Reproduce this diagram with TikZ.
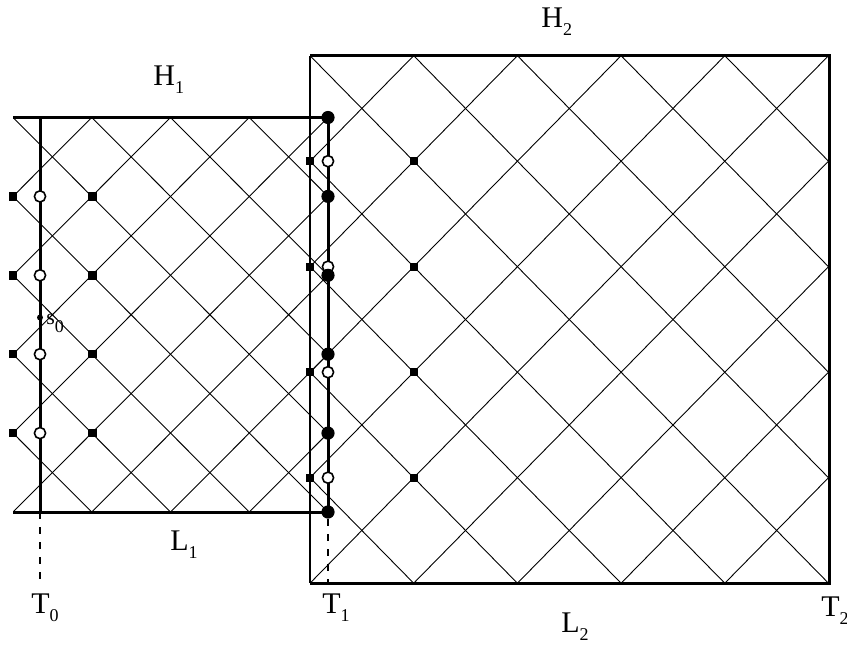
\documentclass[tikz,border=0pt]{standalone}
\usepackage{fontspec}
\setmainfont{Liberation Serif}
\usetikzlibrary{positioning}
\tikzset{
  rim/.style={line width=1.5pt},
  rimthin/.style={line width=0.7pt},
  net/.style={line width=0.45pt},
  guide/.style={line width=0.6pt,dash pattern=on 3.5pt off 4pt},
  sqmark/.style={rectangle,fill=black,minimum size=4.2pt,inner sep=0pt},
  ring/.style={circle,draw,fill=white,line width=0.8pt,minimum size=5.6pt,inner sep=0pt},
  bigdot/.style={circle,fill=black,minimum size=6.6pt,inner sep=0pt},
  smalldot/.style={circle,fill=black,minimum size=3pt,inner sep=0pt},
  lab/.style={font=\fontsize{15}{15}\selectfont,inner sep=0pt,anchor=base west},
}
\newcommand{\lowsub}[1]{\raisebox{-4pt}{\fontsize{9}{9}\selectfont #1}}

\begin{document}
\begin{tikzpicture}[x=0.5pt,y=-0.5pt]
  \useasboundingbox (0,0) rectangle (847,648);
  % lattice of the first strip
  \begin{scope}
    \clip (13,117.5) rectangle (328,512);
    \begin{scope}[shift={(13,117.5)},x=39.375pt,y=-39.45pt]
      \foreach \k in {-6,...,10} {
        \draw[net] (\k,0) -- ++(6,6);
        \draw[net] (\k,0) -- ++(-6,6);
      }
    \end{scope}
  \end{scope}
  % lattice of the second square
  \begin{scope}
    \clip (310,55.7) rectangle (829,583);
    \begin{scope}[shift={(310,55.7)},x=51.85pt,y=-52.75pt]
      \foreach \k in {-6,...,11} {
        \draw[net] (\k,0) -- ++(6,6);
        \draw[net] (\k,0) -- ++(-6,6);
      }
    \end{scope}
  \end{scope}
  % frames
  \draw[rimthin] (310,55.7) -- (310,583);
  \draw[rim] (310,55.7) -- (829,55.7) -- (829,583) -- (310,583);
  \draw[rim] (13,117.5) -- (328,117.5);
  \draw[rim] (13,512) -- (328,512);
  \draw[rim] (40,117.5) -- (40,512);
  \draw[rim] (328,117.5) -- (328,512);
  % markers
  \foreach \j in {1,...,4} {
    \node[sqmark] (qa\j) at (13,{117.5+78.9*\j}) {};
    \node[sqmark] (qb\j) at (92.5,{117.5+78.9*\j}) {};
    \node[ring] (ra\j) at (40,{117.5+78.9*\j}) {};
    \node[sqmark] (qc\j) at (310,{55.7+105.5*\j}) {};
    \node[sqmark] (qd\j) at (413.7,{55.7+105.5*\j}) {};
    \node[ring] (rb\j) at (328,{55.7+105.5*\j}) {};
  }
  \foreach \j in {0,...,5}
    \node[bigdot] (d\j) at (328,{117.5+78.9*\j}) {};
  \node[smalldot] (s0) at (40,317.5) {};
  \node[lab,font=\fontsize{11}{11}\selectfont] (s0lab) at (46,324) {s\lowsub{0}};
  % time marks
  \coordinate (t0foot) at (40,583);
  \coordinate (t1foot) at (328,583);
  \coordinate (t0top) at (40,512);
  \draw[guide] (t0top) -- (t0foot);
  \draw[guide] (d5) -- (t1foot);
  % labels
  \node[lab] (H1) at (153,85) {H\lowsub{1}};
  \node[lab] (H2) at (541,27) {H\lowsub{2}};
  \node[lab] (L1) at (170,550) {L\lowsub{1}};
  \node[lab] (L2) at (561,632) {L\lowsub{2}};
  \node[lab] (T0) at (31,613) {T\lowsub{0}};
  \node[lab] (T1) at (322,613) {T\lowsub{1}};
  \node[lab] (T2) at (821,616) {T\lowsub{2}};
\end{tikzpicture}
\end{document}
